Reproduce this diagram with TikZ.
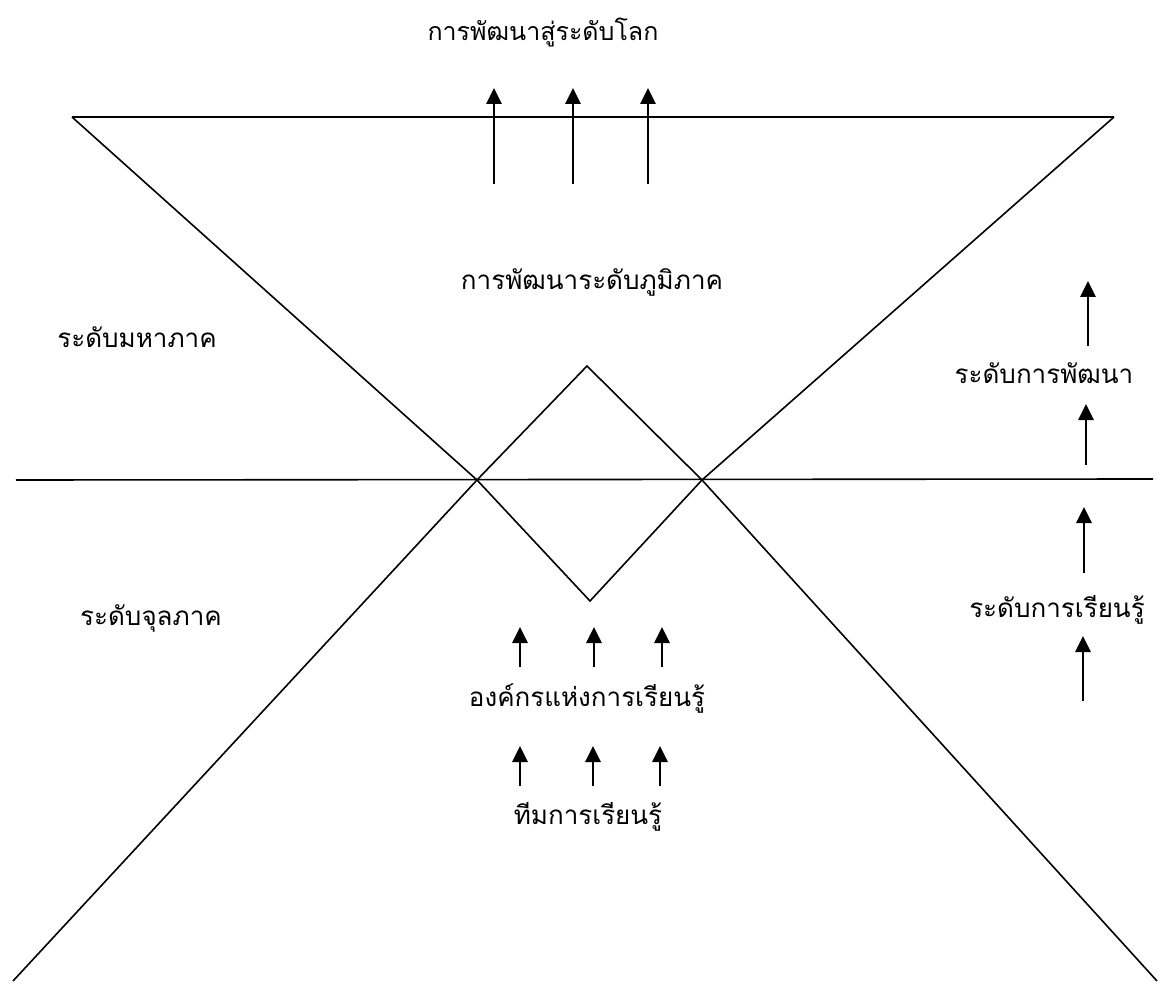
\documentclass[tikz,border=0pt]{standalone}
\usepackage{fontspec}
\newfontfamily\thaifont[Script=Thai]{Loma}
\usetikzlibrary{arrows.meta}
\tikzset{
  edge/.style={line width=1.6pt, line join=miter},
  uparrow/.style={line width=2.8pt, -{Triangle[length=16pt,width=15pt]}},
  lbl/.style={font=\thaifont\fontsize{26}{30}\selectfont, inner sep=0pt, anchor=center},
  toplbl/.style={font=\thaifont\fontsize{25}{30}\selectfont, inner sep=0pt, anchor=center}
}
\begin{document}
\begin{tikzpicture}[x=1pt,y=-1pt]
\useasboundingbox[fill=white] (0,0) rectangle (1160,984);
% frame points
\coordinate (TL) at (72,117);
\coordinate (TR) at (1114,117);
\coordinate (XL) at (477,480);
\coordinate (XR) at (702,480);
\coordinate (DT) at (587,366);
\coordinate (DB) at (590,601);
\coordinate (BL) at (13,981);
\coordinate (BR) at (1157,981);
\coordinate (HL) at (16,480);
\coordinate (HR) at (1153,479);
% shapes
\draw[edge] (TL) -- (TR);
\draw[edge] (TL) -- (XL) -- (DB) -- (XR) -- (TR);
\draw[edge] (BL) -- (XL) -- (DT) -- (XR) -- (BR);
\draw[edge] (HL) -- (HR);
% texts
\node[toplbl] (world) at (543,33) {การพัฒนาสู่ระดับโลก};
\node[lbl] (region) at (592,282) {การพัฒนาระดับภูมิภาค};
\node[lbl] (macro) at (137,337) {ระดับมหาภาค};
\node[lbl] (micro) at (151,618) {ระดับจุลภาค};
\node[lbl] (devlvl) at (1044,373) {ระดับการพัฒนา};
\node[lbl] (learnlvl) at (1057,610) {ระดับการเรียนรู้};
\node[lbl] (org) at (587,698) {องค์กรแห่งการเรียนรู้};
\node[lbl] (team) at (588,817) {ทีมการเรียนรู้};
% top arrows
\foreach \i/\x in {1/494,2/573,3/648}{
  \coordinate (ta\i) at (\x,184);
  \coordinate (tb\i) at (\x,88);
  \draw[uparrow] (ta\i) -- (tb\i);
}
% right column arrows
\coordinate (r1a) at (1088,346); \coordinate (r1b) at (1088,281);
\coordinate (r2a) at (1086,465); \coordinate (r2b) at (1086,404);
\coordinate (r3a) at (1084,573); \coordinate (r3b) at (1084,507);
\coordinate (r4a) at (1083,701); \coordinate (r4b) at (1083,636);
\foreach \i in {1,2,3,4}{\draw[uparrow] (r\i a) -- (r\i b);}
% middle arrows
\foreach \i/\x in {1/520,2/594,3/662}{
  \coordinate (ma\i) at (\x,667);
  \coordinate (mb\i) at (\x,627);
  \draw[uparrow] (ma\i) -- (mb\i);
}
\foreach \i/\x in {1/520,2/593,3/660}{
  \coordinate (na\i) at (\x,786);
  \coordinate (nb\i) at (\x,746);
  \draw[uparrow] (na\i) -- (nb\i);
}
\end{tikzpicture}
\end{document}
